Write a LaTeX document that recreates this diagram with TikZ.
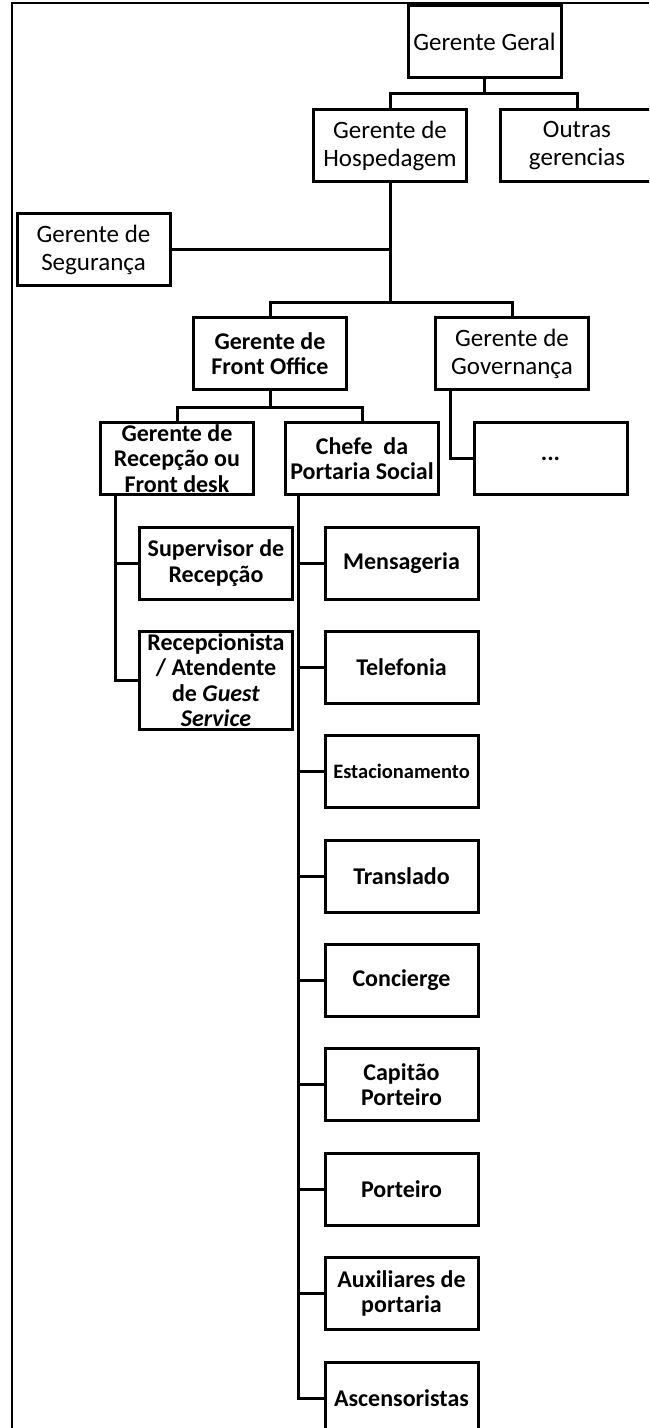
\documentclass[tikz,border=0pt]{standalone}
\usepackage{fontspec}
\setmainfont{Carlito}
\usetikzlibrary{calc}

\tikzset{
  caixa/.style={draw, line width=3pt, minimum width=153pt, minimum height=72pt,
    inner sep=0pt, align=center, font=\fontsize{25}{28}\selectfont},
  negrito/.style={caixa, font=\bfseries\fontsize{24}{25.5}\selectfont},
  liga/.style={line width=3pt, line cap=rect}
}

\begin{document}
\begin{tikzpicture}[x=1pt, y=-1pt]
		%%%%% START %%%%%
		\useasboundingbox (0,0) rectangle (649,1428);
		\clip (0,0) rectangle (649,1428);
		
		\draw[line width=2pt] (12,1428) -- (12,3) -- (649,3);
		
		% topo
		\node[caixa] (geral) at (484.5,41.5) {Gerente Geral};
		\node[caixa] (hosp) at (390,145.5) {Gerente de\\Hospedagem};
		\node[caixa] (outras) at (577,145.5) {Outras\\gerencias};
		\node[caixa] (seg) at (93.5,249.5) {Gerente de\\Segurança};
		
		\node[negrito] (front) at (270,353.5) {Gerente de\\Front Office};
		\node[caixa] (gov) at (512,353.5) {Gerente de\\Governança};
		
		\node[negrito] (recep) at (177,458.5) {Gerente de\\Recepção ou\\Front desk};
		\node[negrito] (chefe) at (362,458.5) {Chefe \ da\\Portaria Social};
		\node[negrito] (govx) at (550.5,458.5) {...};
		
		\node[negrito] (sup) at (216,563) {Supervisor de\\Recepção};
		\node[negrito, minimum height=98pt] (recepc) at (216,680)
		  {Recepcionista\\/ Atendente\\de \textit{Guest}\\\textit{Service}};
		
		% portaria social
		\foreach \nome/\texto [count=\i from 0] in {mens/Mensageria, tel/Telefonia,
		    est/{\fontsize{20.5}{22}\selectfont Estacionamento}, trans/Translado,
		    conc/Concierge, cap/{Capitão\\Porteiro}, port/Porteiro,
		    aux/{Auxiliares de\\portaria}, asc/Ascensoristas}
		  \node[negrito] (\nome) at (401.5,{563+104.375*\i}) {\texto};
		
		% ligacoes
		\coordinate (b1) at (484.5,93);
		\coordinate (b2) at (390,302);
		\coordinate (b3) at (270,407);
		\draw[liga] (geral.south) -- (b1);
		\draw[liga] (hosp.north) |- (b1) -| (outras.north);
		\draw[liga] (hosp.south) -- (b2);
		\draw[liga] (seg.east) -- (seg.east -| b2);
		\draw[liga] (front.north) |- (b2) -| (gov.north);
		\draw[liga] (front.south) -- (b3);
		\draw[liga] (recep.north) |- (b3) -| (chefe.north);
		
		\coordinate (g0) at ($(gov.south west)+(16,0)$);
		\draw[liga] (g0) |- (govx.west);
		
		\coordinate (r0) at ($(recep.south west)+(16,0)$);
		\draw[liga] (r0) |- (recepc.west);
		\draw[liga] (sup.west) -- (sup.west -| r0);
		
		\coordinate (c0) at ($(chefe.south west)+(14,0)$);
		\draw[liga] (c0) |- (asc.west);
		\foreach \nome in {mens,tel,est,trans,conc,cap,port,aux}
		  \draw[liga] (\nome.west) -- (\nome.west -| c0);
		
		%%%%% END %%%%%
	\end{tikzpicture}
\end{document}
